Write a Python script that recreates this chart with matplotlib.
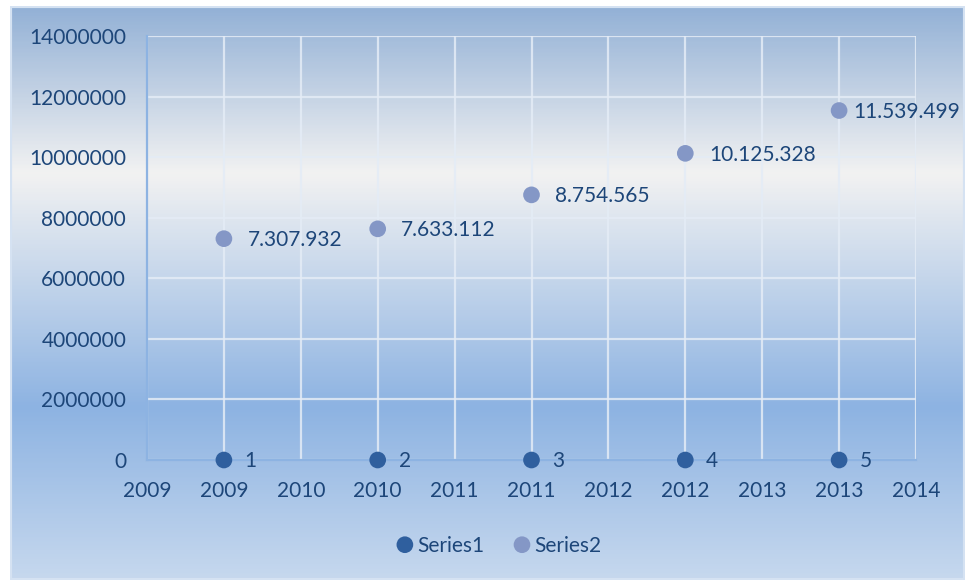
import math
import numpy as np
import matplotlib
matplotlib.use("Agg")
import matplotlib.pyplot as plt
from matplotlib.colors import LinearSegmentedColormap
from matplotlib.ticker import MultipleLocator, FuncFormatter
import matplotlib.patheffects as pe

# ==========================================================
# DADOS
# ==========================================================

anos = [2009, 2010, 2011, 2012, 2013]

serie1 = [0, 0, 0, 0, 0]
rotulos1 = ["1", "2", "3", "4", "5"]

serie2 = [7307932, 7633112, 8754565, 10125328, 11539499]
rotulos2 = ["7.307.932", "7.633.112", "8.754.565", "10.125.328", "11.539.499"]

COR_TEXTO = "#1d4679"
COR_S1 = "#2f5f9e"
COR_S2 = "#8497c6"

plt.rcParams["font.family"] = ["Lato", "DejaVu Sans"]

# ==========================================================
# FIGURA + FUNDO EM DEGRADÊ
# ==========================================================

fig = plt.figure(figsize=(9.65, 5.8), dpi=100, facecolor="white")

fundo = fig.add_axes([10 / 965, 0, 1 - 10 / 965, 1 - 6 / 580], zorder=-10)
degrade = LinearSegmentedColormap.from_list(
    "fundo",
    [(0.0, "#93b1d6"), (0.29, "#f2f2f2"), (0.70, "#8db3e2"), (1.0, "#c6d8ee")]
)
fundo.imshow(np.linspace(0, 1, 400).reshape(-1, 1), cmap=degrade,
             aspect="auto", extent=[0, 1, 1, 0])
fundo.set_xlim(0, 1)
fundo.set_ylim(1, 0)
fundo.axis("off")
fundo.add_patch(plt.Rectangle((0, 0), 1, 1, transform=fundo.transAxes,
                              fill=False, edgecolor="#d5e2f2", linewidth=3))

# ==========================================================
# GRÁFICO
# ==========================================================

ax = fig.add_axes([147 / 965, 1 - 460 / 580, (916 - 147) / 965, (460 - 36) / 580])
ax.patch.set_alpha(0)

ax.set_xlim(2008.5, 2013.5)
ax.set_ylim(0, 14000000)
ax.xaxis.set_major_locator(MultipleLocator(0.5))
ax.yaxis.set_major_locator(MultipleLocator(2000000))
ax.xaxis.set_major_formatter(FuncFormatter(lambda v, p: f"{math.floor(v + 0.5):d}"))
ax.yaxis.set_major_formatter(FuncFormatter(lambda v, p: f"{int(round(v)):d}"))

ax.grid(True, color="#e4ecf6", linewidth=1.6, alpha=0.85, zorder=0)
ax.set_axisbelow(True)

for lado in ["top", "right"]:
    ax.spines[lado].set_visible(False)
ax.spines["left"].set_color("#8db3e2")
ax.spines["left"].set_linewidth(1.6)
ax.spines["bottom"].set_color("#8db3e2")
ax.spines["bottom"].set_linewidth(1.6)

ax.tick_params(length=0, labelsize=15, labelcolor=COR_TEXTO)
ax.tick_params(axis="y", pad=15)
ax.tick_params(axis="x", pad=15)

sombra = [pe.SimpleLineShadow(offset=(0.8, -1.8), alpha=0.3, shadow_color="#1f3a60"), pe.Normal()]

ax.plot(anos, serie1, "o", color=COR_S1, markersize=12, markeredgewidth=0,
        label="Series1", zorder=5, path_effects=sombra, clip_on=False)
ax.plot(anos, serie2, "o", color=COR_S2, markersize=12, markeredgewidth=0,
        label="Series2", zorder=5, path_effects=sombra, clip_on=False)

for x, y, txt in zip(anos, serie1, rotulos1):
    ax.annotate(txt, (x, y), xytext=(15, -1), textcoords="offset points",
                va="center", ha="left", fontsize=15, color=COR_TEXTO)

desloc = [17, 17, 17, 17, 10]
for x, y, txt, d in zip(anos, serie2, rotulos2, desloc):
    ax.annotate(txt, (x, y), xytext=(d, -1), textcoords="offset points",
                va="center", ha="left", fontsize=15, color=COR_TEXTO)

fig.legend(loc="center", bbox_to_anchor=(497 / 965, 1 - 546 / 580), ncol=2,
           frameon=False, fontsize=15, labelcolor=COR_TEXTO,
           handletextpad=0.0, columnspacing=1.2, handlelength=1.2)

fig.savefig("out.png", dpi=100, facecolor="white")
